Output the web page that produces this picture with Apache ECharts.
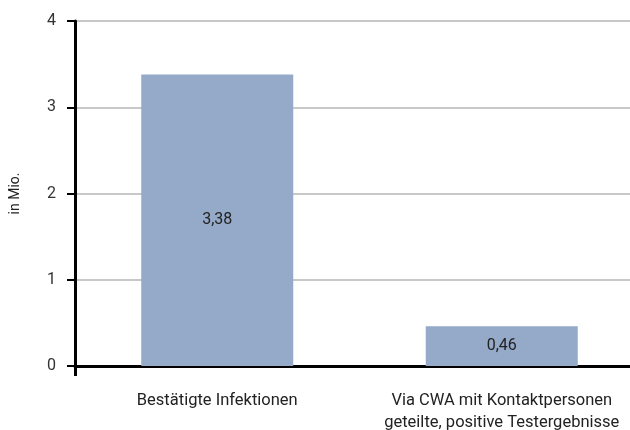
<!DOCTYPE html>
<html><head><meta charset="utf-8">
<script src="https://cdn.jsdelivr.net/npm/echarts@6/dist/echarts.min.js"></script>
<style>html,body{margin:0;padding:0;background:#fff}#c{width:630px;height:430px}</style>
</head><body><div id="c"></div>
<script>
const categories = ["Bestätigte Infektionen", "Via CWA mit Kontaktpersonen\ngeteilte, positive Testergebnisse"];
const values = [3.38, 0.46];
const valueLabels = ["3,38", "0,46"];
const yTicks = [0, 1, 2, 3, 4];
const yName = "in Mio.";

const FONT = "Roboto, 'Liberation Sans', sans-serif";
const chart = echarts.init(document.getElementById('c'), null, {renderer: 'canvas'});
chart.setOption({
  animation: false,
  grid: {left: 75, width: 569, top: 21, height: 345, containLabel: false, outerBoundsMode: 'none'},
  xAxis: {
    type: 'category',
    data: categories,
    axisLine: {lineStyle: {color: '#000', width: 3}},
    axisTick: {show: true, length: 10, interval: function(i){return i === 0;}, lineStyle: {color: '#000', width: 3}},
    axisLabel: {color: '#222', fontFamily: FONT, fontSize: 16.5, margin: 24, lineHeight: 22, interval: 0}
  },
  yAxis: {
    type: 'value',
    min: yTicks[0], max: yTicks[yTicks.length - 1], interval: 1,
    name: yName,
    nameLocation: 'middle',
    nameGap: 53,
    nameRotate: 90,
    nameTextStyle: {color: '#222', fontFamily: FONT, fontSize: 14},
    axisLine: {show: true, lineStyle: {color: '#000', width: 3}},
    axisTick: {show: true, length: 8, lineStyle: {color: '#000', width: 2}},
    axisLabel: {color: '#333', fontFamily: FONT, fontSize: 16, margin: 19},
    splitLine: {show: true, lineStyle: {color: '#c8c8c8', width: 2}}
  },
  series: [{
    type: 'bar',
    data: values,
    barWidth: 152,
    itemStyle: {color: '#95a9c9'},
    label: {
      show: true, position: 'inside', color: '#222', fontFamily: FONT, fontSize: 16,
      formatter: function(p){ return valueLabels[p.dataIndex]; }
    }
  }]
});
</script></body></html>
